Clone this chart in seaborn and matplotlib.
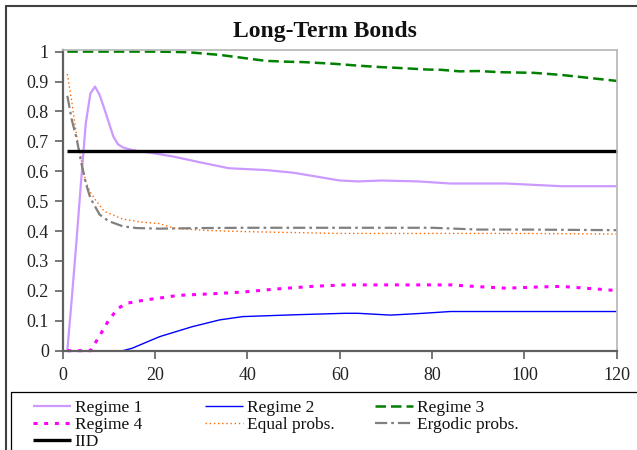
import matplotlib
matplotlib.use("Agg")
import matplotlib.pyplot as plt
from matplotlib.lines import Line2D
import seaborn as sns
import pandas as pd

# ---------------- data ----------------
r1_x = [1, 2, 3, 4, 5, 6, 7, 8, 9, 10, 11, 12, 13, 14, 16, 19, 24, 30, 36, 44, 50, 55, 60, 64, 69, 77, 84, 96, 108, 120]
r1_y = [0, 0.18, 0.37, 0.57, 0.76, 0.86, 0.883, 0.855, 0.81, 0.762, 0.715, 0.69, 0.68, 0.675, 0.668, 0.662, 0.649,
        0.629, 0.61, 0.604, 0.595, 0.582, 0.569, 0.566, 0.569, 0.566, 0.559, 0.559, 0.55, 0.55]

r2_x = [1, 5, 10, 13, 15, 21, 28, 34, 39, 50, 61, 64, 71, 78, 84, 100, 120]
r2_y = [0, 0, 0, 0, 0.008, 0.047, 0.08, 0.103, 0.114, 0.12, 0.125, 0.125, 0.119, 0.125, 0.131, 0.131, 0.131]

r3_x = [1, 5, 10, 15, 20, 24, 27, 34, 41, 44, 49, 52, 59, 64, 69, 72, 79, 82, 86, 90, 95, 102, 108, 114, 120]
r3_y = [1.0, 1.0, 1.0, 1.0, 1.0, 0.999, 0.998, 0.989, 0.975, 0.969, 0.966, 0.965, 0.959, 0.953, 0.948, 0.946,
        0.94, 0.939, 0.934, 0.935, 0.931, 0.929, 0.922, 0.912, 0.902]

r4_x = [1, 6, 8, 10, 12, 14, 18, 21, 25, 32, 39, 46, 54, 61, 70, 84, 89, 96, 103, 108, 115, 120]
r4_y = [0, 0, 0.05, 0.103, 0.142, 0.159, 0.17, 0.176, 0.185, 0.19, 0.196, 0.206, 0.215, 0.22, 0.22, 0.22,
        0.215, 0.209, 0.213, 0.215, 0.207, 0.201]

eq_x = [1, 2, 3, 4, 5, 6, 7, 9, 13, 17, 21, 24, 31, 40, 50, 60, 80, 100, 120]
eq_y = [0.925, 0.83, 0.72, 0.64, 0.565, 0.53, 0.506, 0.466, 0.44, 0.43, 0.425, 0.41, 0.402, 0.398, 0.395,
        0.392, 0.392, 0.392, 0.39]

erg_x = [1, 2, 3, 4, 5, 6, 8, 10, 13, 16, 21, 30, 40, 60, 80, 90, 100, 120]
erg_y = [0.852, 0.77, 0.71, 0.63, 0.56, 0.51, 0.455, 0.433, 0.416, 0.41, 0.408, 0.41, 0.411, 0.411, 0.411,
         0.405, 0.405, 0.403]

iid_x = [1, 120]
iid_y = [0.667, 0.667]

x_ticks = [0, 20, 40, 60, 80, 100, 120]
y_ticks = [0, 0.1, 0.2, 0.3, 0.4, 0.5, 0.6, 0.7, 0.8, 0.9, 1]
y_tick_labels = ["0", "0.1", "0.2", "0.3", "0.4", "0.5", "0.6", "0.7", "0.8", "0.9", "1"]
title = "Long-Term Bonds"

# ---------------- style ----------------
sns.set_style("white")
plt.rcParams["font.family"] = ["Liberation Serif", "DejaVu Serif"]

W, H = 637, 450
fig = plt.figure(figsize=(W / 100, H / 100), dpi=100)
ax = fig.add_axes([62.7 / W, (H - 350.7) / H, (616.7 - 62.7) / W, (350.7 - 49.8) / H])

series = [
    ("Regime 1", r1_x, r1_y, dict(color="#CC99FF", lw=1.6, dashes=None)),
    ("Regime 2", r2_x, r2_y, dict(color="#0000FF", lw=1.0, dashes=None)),
    ("Regime 3", r3_x, r3_y, dict(color="#008000", lw=1.8, dashes=(4.2, 2.0))),
    ("Regime 4", r4_x, r4_y, dict(color="#FF00FF", lw=2.2, dashes=(1.3, 2.2))),
    ("Equal probs.", eq_x, eq_y, dict(color="#FF6600", lw=1.0, dashes=(1.0, 2.0))),
    ("Ergodic probs.", erg_x, erg_y, dict(color="#808080", lw=1.6, dashes=(5.5, 1.8, 1.2, 1.8))),
    ("IID", iid_x, iid_y, dict(color="#000000", lw=2.4, dashes=None)),
]

handles = {}
for name, xs, ys, st in series:
    df = pd.DataFrame({"x": xs, "y": ys})
    kw = {}
    if st["dashes"] is not None:
        kw["dashes"] = st["dashes"]
    sns.lineplot(data=df, x="x", y="y", ax=ax, color=st["color"], linewidth=st["lw"],
                 label=name, legend=False, solid_capstyle="butt", dash_capstyle="butt",
                 clip_on=False, **kw)
    line = ax.get_lines()[-1]
    handles[name] = line

ax.set_xlim(0, 120)
ax.set_ylim(0, 1.006)
ax.set_xticks(x_ticks)
ax.set_yticks(y_ticks)
ax.set_yticklabels(y_tick_labels)
ax.set_xlabel("")
ax.set_ylabel("")
ax.tick_params(axis="both", which="both", direction="out", length=6, width=1.2,
               color="#606060", labelsize=13, labelcolor="#222222",
               left=True, bottom=True)
ax.tick_params(axis="x", pad=6)
ax.tick_params(axis="y", pad=4)

for s in ["left", "bottom"]:
    ax.spines[s].set_color("#606060")
    ax.spines[s].set_linewidth(1.6)
for s in ["top", "right"]:
    ax.spines[s].set_color("#b5b5b5")
    ax.spines[s].set_linewidth(1.2)
ax.grid(False)

# title
fig.text(325 / W, (H - 31) / H, title, ha="center", va="center", fontsize=17,
         fontweight="bold", color="#111111")

# outer chart frame (cropped)
fig.add_artist(Line2D([6 / W, 6 / W], [0, (H - 6) / H], transform=fig.transFigure,
                      color="#404040", lw=1.5))
fig.add_artist(Line2D([6 / W, 1.0], [(H - 6) / H, (H - 6) / H], transform=fig.transFigure,
                      color="#404040", lw=1.5))

# legend box (cropped)
fig.add_artist(Line2D([11 / W, 11 / W], [0, (H - 392) / H], transform=fig.transFigure,
                      color="#000000", lw=0.9))
fig.add_artist(Line2D([11 / W, 1.0], [(H - 392) / H, (H - 392) / H], transform=fig.transFigure,
                      color="#000000", lw=0.9))

cols = [
    (33, ["Regime 1", "Regime 4", "IID"]),
    (205, ["Regime 2", "Equal probs."]),
    (375, ["Regime 3", "Ergodic probs."]),
]
for xpx, names in cols:
    leg = fig.legend([handles[n] for n in names], names, loc="upper left",
                     bbox_to_anchor=(xpx / W, (H - 400) / H), frameon=False,
                     fontsize=12.5, handlelength=2.2, handletextpad=0.2,
                     labelspacing=0.05, borderpad=0, borderaxespad=0)
    for t in leg.get_texts():
        t.set_color("#111111")

fig.savefig("out.png", dpi=100)
